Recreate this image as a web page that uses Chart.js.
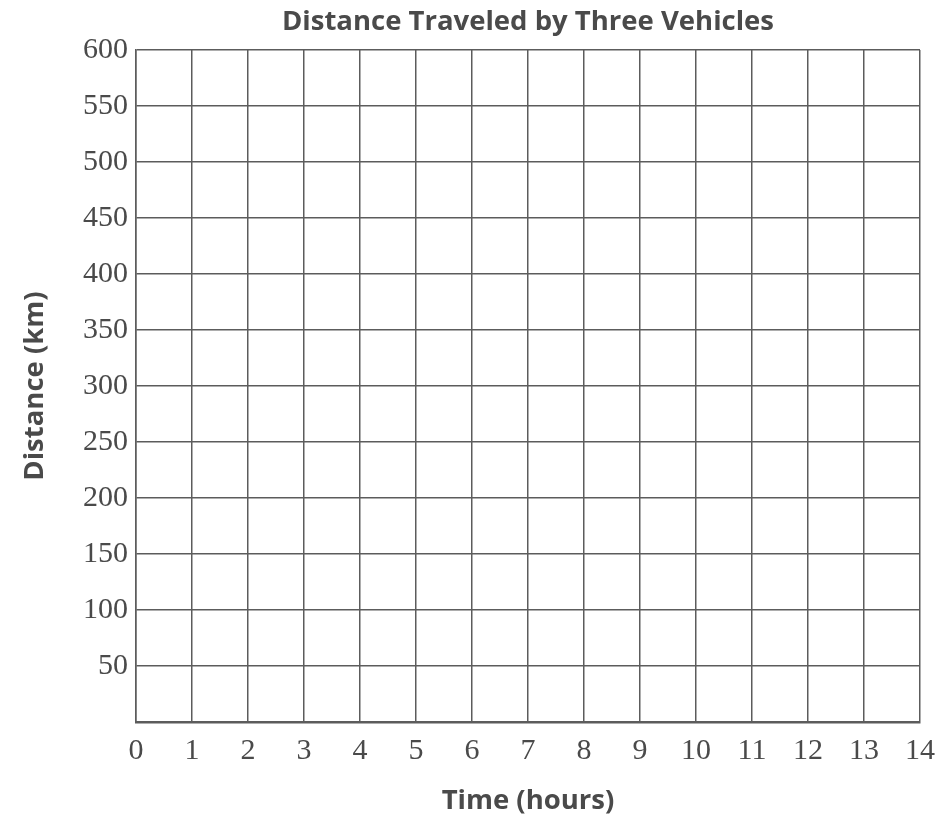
<!DOCTYPE html>
<html>
<head>
<meta charset="utf-8">
<script src="https://cdn.jsdelivr.net/npm/chart.js@4/dist/chart.umd.min.js"></script>
<style>
  html, body { margin: 0; padding: 0; background: #fff; }
  #wrap { width: 936px; height: 818px; }
</style>
</head>
<body>
<div id="wrap"><canvas id="distanceChart" width="936" height="818"></canvas></div>
<script>
// blank grid - the vehicles have no data plotted yet
const xTicks = [0, 1, 2, 3, 4, 5, 6, 7, 8, 9, 10, 11, 12, 13, 14];
const yTicks = [0, 50, 100, 150, 200, 250, 300, 350, 400, 450, 500, 550, 600];
const vehicles = ["Vehicle A", "Vehicle B", "Vehicle C"];
const vehicleA = [];
const vehicleB = [];
const vehicleC = [];

const ink = "#4a4a4a";
const gridColor = "#5c5c5c";
const titleFont = { family: "Open Sans", size: 27.5, weight: "bold" };
const tickFont = { family: "Liberation Serif", size: 30 };

const chartCanvas = document.querySelector("#distanceChart");

new Chart(chartCanvas, {
    type: "line",
    data: {
        datasets: [
            { label: vehicles[0], data: vehicleA },
            { label: vehicles[1], data: vehicleB },
            { label: vehicles[2], data: vehicleC }
        ]
    },
    options: {
        responsive: false,
        animation: false,
        events: [],
        layout: { padding: 0 },
        plugins: {
            legend: { display: false },
            tooltip: { enabled: false },
            title: {
                display: true,
                fullSize: false,
                text: "Distance Traveled by Three Vehicles",
                color: ink,
                font: titleFont,
                padding: { top: 6, bottom: 11 }
            }
        },
        scales: {
            x: {
                type: "linear",
                min: xTicks[0],
                max: xTicks[xTicks.length - 1],
                afterBuildTicks: (scale) => {
                    scale.ticks = xTicks.map(v => ({ value: v }));
                },
                afterFit: (scale) => {
                    scale.height = 96;
                    scale.paddingLeft = 0;
                    scale.paddingRight = 16;
                },
                ticks: {
                    color: ink,
                    font: tickFont,
                    padding: 11,
                    maxRotation: 0,
                    autoSkip: false
                },
                grid: { color: gridColor, lineWidth: 1.5, drawTicks: false },
                border: { color: gridColor, width: 2.5 },
                title: {
                    display: true,
                    text: "Time (hours)",
                    color: ink,
                    font: titleFont,
                    padding: { top: 0, bottom: 0 }
                }
            },
            y: {
                type: "linear",
                min: yTicks[0],
                max: yTicks[yTicks.length - 1],
                afterBuildTicks: (scale) => {
                    scale.ticks = yTicks.map(v => ({ value: v }));
                },
                afterFit: (scale) => { scale.width = 136; },
                ticks: {
                    color: ink,
                    font: tickFont,
                    padding: 8,
                    autoSkip: false,
                    callback: (v) => (v === 0 ? "" : v)
                },
                grid: { color: gridColor, lineWidth: 1.5, drawTicks: false },
                border: { color: gridColor, width: 1.5 },
                title: {
                    display: true,
                    text: "Distance (km)",
                    color: ink,
                    font: titleFont,
                    padding: { top: 19, bottom: 0 }
                }
            }
        }
    }
});
</script>
</body>
</html>
